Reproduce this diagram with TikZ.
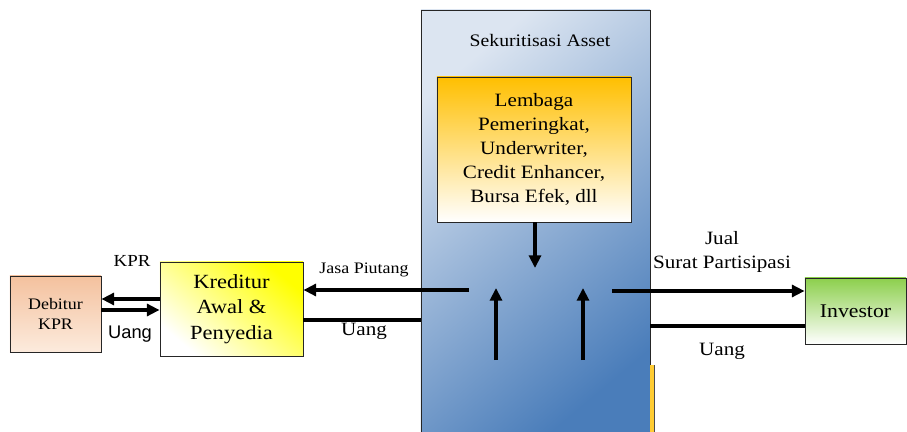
\documentclass[tikz,border=0pt]{standalone}
\usepackage{fontspec}
\setmainfont[FakeStretch=1.12]{Liberation Serif}
\newfontfamily\arialfont{Liberation Sans}
\usetikzlibrary{arrows.meta}

\definecolor{seklight}{HTML}{DCE5F1}
\definecolor{sekdark}{HTML}{4A7DBA}
\definecolor{orangetop}{HTML}{FFBF00}
\definecolor{peach}{HTML}{F4C19E}
\definecolor{peachlight}{HTML}{FCEBDD}
\definecolor{greentop}{HTML}{8CCF4C}

\tikzset{
  box/.style={draw=black!85, line width=0.6pt, align=center, inner sep=2pt},
  flow/.style={line width=2.6pt, -{Triangle[length=9pt,width=8.5pt]}},
  link/.style={line width=2.6pt},
  lbl/.style={font=\fontsize{11.4}{14}\selectfont, align=center}
}

\begin{document}
\begin{tikzpicture}[x=0.025cm,y=-0.025cm]
  \clip (0,0) rectangle (907,432);
  % big box and what sits in it
  \node[box, minimum width=5.725cm, minimum height=10.75cm,
        top color=seklight, bottom color=sekdark, shading angle=40] (sek) at (535.5,225) {};
  \node[lbl, font=\fontsize{12.5}{15}\selectfont] (sektitle) at (540,40) {Sekuritisasi Asset};
  \node[box, minimum width=4.85cm, minimum height=3.625cm,
        top color=orangetop, bottom color=white,
        font=\fontsize{13.4}{17}\selectfont] (lembaga) at (534,149.5)
        {Lembaga\\Pemeringkat,\\Underwriter,\\Credit Enhancer,\\Bursa Efek, dll};
  \fill[orangetop!80] (650,365) rectangle (654,440);
  \draw[black!70, line width=0.4pt] (654,365) -- (654,440);

  % outer boxes
  \node[box, minimum width=2.275cm, minimum height=1.9cm,
        top color=peach, bottom color=peachlight,
        font=\fontsize{11.4}{14}\selectfont] (debitur) at (55.5,314) {Debitur\\KPR};
  \node[box, minimum width=3.575cm, minimum height=2.35cm,
        top color=yellow, bottom color=white, shading angle=-40,
        font=\fontsize{14.3}{18}\selectfont] (kreditur) at (231.5,309) {Kreditur\\Awal \&\\Penyedia};
  \node[box, minimum width=2.525cm, minimum height=1.65cm,
        top color=greentop, bottom color=white,
        font=\fontsize{13.8}{16}\selectfont] (investor) at (855.5,311) {Investor};

  % free ends of the connectors
  \coordinate (jpstart) at (469,290);
  \coordinate (jualstart) at (612,291);
  \coordinate (downend) at (535,268);
  \coordinate (upA1) at (496,360);
  \coordinate (upA2) at (496,288);
  \coordinate (upB1) at (583,360);
  \coordinate (upB2) at (583,288);

  % debitur <-> kreditur
  \draw[flow] (kreditur.west |- 0,299) -- (debitur.east |- 0,299);
  \draw[flow] (debitur.east |- 0,310) -- (kreditur.west |- 0,310);
  \node[lbl, font=\fontsize{12}{14}\selectfont] (kprlbl) at (132,261) {KPR};
  \node[lbl, font=\arialfont\fontsize{13}{15}\selectfont] (uanglbl1) at (130,334) {Uang};

  % kreditur <-> sekuritisasi
  \draw[flow] (jpstart) -- (jpstart -| kreditur.east);
  \node[lbl] (jplbl) at (364,270) {Jasa Piutang};
  \draw[link] (kreditur.east |- 0,320) -- (sek.west |- 0,320);
  \node[lbl, font=\fontsize{13.4}{14}\selectfont] (uanglbl2) at (364,331) {Uang};

  % inside
  \draw[flow] (lembaga.south -| downend) -- (downend);
  \draw[flow] (upA1) -- (upA2);
  \draw[flow] (upB1) -- (upB2);

  % sekuritisasi <-> investor
  \draw[flow] (jualstart) -- (jualstart -| investor.west);
  \node[lbl, font=\fontsize{13.4}{17}\selectfont] (juallbl) at (722,252) {Jual\\Surat Partisipasi};
  \draw[link] (sek.east |- 0,326) -- (investor.west |- 0,326);
  \node[lbl, font=\fontsize{13.4}{14}\selectfont] (uanglbl3) at (722,351) {Uang};
\end{tikzpicture}
\end{document}
